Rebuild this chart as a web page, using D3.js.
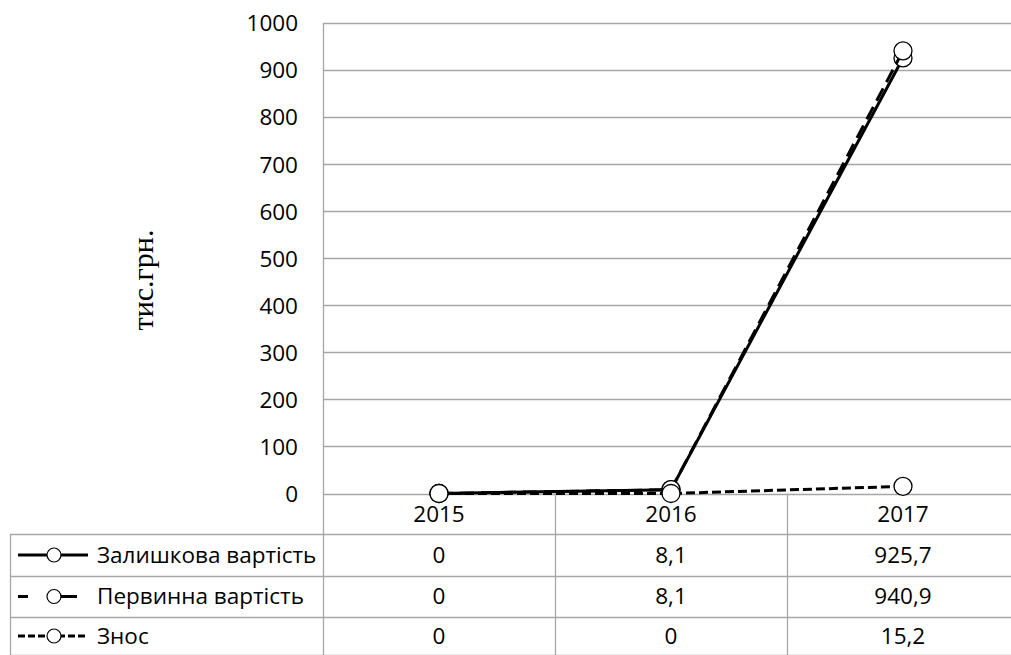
<!DOCTYPE html>
<html>
<head>
<meta charset="utf-8">
<script src="https://cdn.jsdelivr.net/npm/d3@7"></script>
<style>
  html, body { margin: 0; padding: 0; background: #fff; overflow: hidden; }
  svg { display: block; }
</style>
</head>
<body>
<svg id="chart" width="1011" height="655"></svg>
<script>
// Data
const years = ["2015", "2016", "2017"];
const seriesNames = ["Залишкова вартість", "Первинна вартість", "Знос"];
const residualValues = [0, 8.1, 925.7];
const initialValues = [0, 8.1, 940.9];
const depreciationValues = [0, 0, 15.2];
const yTicks = [0, 100, 200, 300, 400, 500, 600, 700, 800, 900, 1000];
const yLabel = "тис.грн.";

const series = [
  { name: seriesNames[0], values: residualValues, dash: null, keyDash: null },
  { name: seriesNames[1], values: initialValues, dash: "14,7", keyDash: "10,32,17,20" },
  { name: seriesNames[2], values: depreciationValues, dash: "9,4", keyDash: "7,3" }
];

const svg = d3.select("#chart");
const W = 1011, H = 655;
const plot = { left: 323, right: 1019, top: 23, bottom: 493.5 };
const tableLeft = 10;
const rowLines = [534, 576, 617, 655];
const grid = "#a6a6a6";
const font = "'Open Sans', 'Noto Sans', sans-serif";
const fs = 22.5;

const x = d3.scaleBand().domain(years).range([plot.left, plot.right]);
const y = d3.scaleLinear().domain([0, 1000]).range([plot.bottom, plot.top]);
const cx = d => x(d) + x.bandwidth() / 2;

// Horizontal gridlines
svg.append("g").selectAll("line").data(yTicks).join("line")
  .attr("x1", plot.left).attr("x2", W)
  .attr("y1", d => Math.round(y(d)) + 0.5).attr("y2", d => Math.round(y(d)) + 0.5)
  .attr("stroke", grid).attr("stroke-width", 1.3);

// Y axis line and tick labels
const yAxis = d3.axisLeft(y).tickValues(yTicks).tickFormat(d3.format("d")).tickSize(0).tickPadding(25);
const gy = svg.append("g").attr("transform", `translate(${plot.left},0)`).call(yAxis);
gy.select(".domain").remove();
gy.selectAll("text").attr("font-family", font).attr("font-size", fs).attr("fill", "#000").attr("dy", "0.35em");
svg.append("line").attr("x1", plot.left + 0.5).attr("x2", plot.left + 0.5)
  .attr("y1", plot.top).attr("y2", H).attr("stroke", grid).attr("stroke-width", 1.3);

// Y axis title
svg.append("text")
  .attr("transform", `translate(153,280) rotate(-90)`)
  .attr("text-anchor", "middle")
  .attr("font-family", "'Liberation Serif', 'DejaVu Serif', serif")
  .attr("font-size", 30)
  .text(yLabel);

// Data table grid
const tg = svg.append("g");
years.slice(1).forEach(yr => {
  tg.append("line").attr("x1", Math.round(x(yr)) + 0.5).attr("x2", Math.round(x(yr)) + 0.5)
    .attr("y1", plot.bottom).attr("y2", H).attr("stroke", grid).attr("stroke-width", 1.3);
});
rowLines.forEach(ry => {
  tg.append("line").attr("x1", tableLeft).attr("x2", W)
    .attr("y1", ry + 0.5).attr("y2", ry + 0.5).attr("stroke", grid).attr("stroke-width", 1.3);
});
tg.append("line").attr("x1", tableLeft + 0.5).attr("x2", tableLeft + 0.5)
  .attr("y1", rowLines[0]).attr("y2", H).attr("stroke", grid).attr("stroke-width", 1.3);

// Year headers
svg.append("g").selectAll("text").data(years).join("text")
  .attr("x", cx).attr("y", 514).attr("dy", "0.35em")
  .attr("text-anchor", "middle").attr("font-family", font).attr("font-size", fs)
  .text(d => d);

// Table values and legend keys
const fmt = v => String(v).replace(".", ",");
series.forEach((s, i) => {
  const rowMid = (rowLines[i] + rowLines[i + 1]) / 2;
  svg.append("g").selectAll("text").data(s.values).join("text")
    .attr("x", (d, j) => cx(years[j])).attr("y", rowMid).attr("dy", "0.35em")
    .attr("text-anchor", "middle").attr("font-family", font).attr("font-size", fs)
    .text(d => fmt(d));

  const lg = svg.append("g");
  lg.append("line").attr("x1", 18).attr("x2", 88).attr("y1", rowMid).attr("y2", rowMid)
    .attr("stroke", "#000").attr("stroke-width", 3)
    .attr("stroke-dasharray", s.keyDash);
  lg.append("circle").attr("cx", 54).attr("cy", rowMid).attr("r", 7)
    .attr("fill", "#fff").attr("stroke", "#000").attr("stroke-width", 1.2);
  lg.append("text").attr("x", 97).attr("y", rowMid).attr("dy", "0.35em")
    .attr("font-family", font).attr("font-size", fs).text(s.name);
});

// Series lines and markers
const line = d3.line().x((d, j) => cx(years[j])).y(d => y(d));
series.forEach(s => {
  const g = svg.append("g");
  g.append("path").datum(s.values).attr("d", line)
    .attr("fill", "none").attr("stroke", "#000").attr("stroke-width", 3)
    .attr("stroke-dasharray", s.dash);
  g.selectAll("circle").data(s.values).join("circle")
    .attr("cx", (d, j) => cx(years[j])).attr("cy", d => y(d)).attr("r", 9)
    .attr("fill", "#fff").attr("stroke", "#000").attr("stroke-width", 1.3);
});
</script>
</body>
</html>
